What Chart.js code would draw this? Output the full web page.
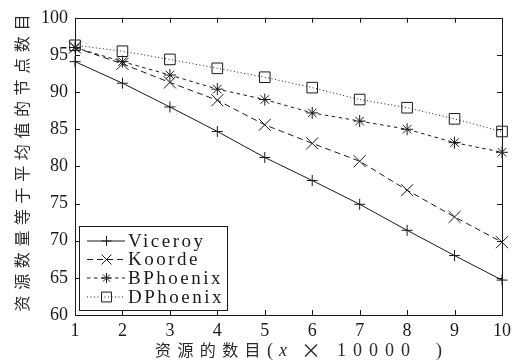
<!DOCTYPE html>
<html lang="zh">
<head>
<meta charset="UTF-8">
<title>资源数量等于平均值的节点数目</title>
<script src="https://cdn.jsdelivr.net/npm/chart.js"></script>
<style>
  html, body { margin: 0; padding: 0; background: #fff; }
  #wrap { width: 529px; height: 363px; position: relative; }
</style>
</head>
<body>
<div id="wrap"><canvas id="chart"></canvas></div>
<script>
// data
const categories = [1, 2, 3, 4, 5, 6, 7, 8, 9, 10];
const viceroy  = [94.1, 91.2, 88.0, 84.7, 81.2, 78.1, 74.9, 71.4, 68.0, 64.7];
const koorde   = [96.0, 93.8, 91.3, 88.9, 85.6, 83.1, 80.7, 76.8, 73.2, 69.8];
const bphoenix = [96.0, 94.1, 92.3, 90.4, 89.0, 87.2, 86.1, 85.0, 83.2, 81.9];
const dphoenix = [96.3, 95.5, 94.4, 93.2, 92.0, 90.6, 89.0, 87.9, 86.4, 84.7];
const seriesNames = ['Viceroy', 'Koorde', 'BPhoenix', 'DPhoenix'];
const yTicks = [60, 65, 70, 75, 80, 85, 90, 95, 100];

const ink = '#1a1a1a';
const serif = '"Liberation Serif", "DejaVu Serif", serif';
const cjk = '"Noto Sans CJK SC", sans-serif';

const styles = [
  { dash: [], point: 'cross', r: 5.5 },
  { dash: [6, 4], point: 'crossRot', r: 8.5 },
  { dash: [3.5, 3.5], point: 'star', r: 6 },
  { dash: [1, 2.5], point: 'rect', r: 7.5 }
];

function toPoints(vals) {
  return categories.map((c, i) => ({ x: c, y: vals[i] }));
}

function mark(ctx, type, x, y, r) {
  ctx.beginPath();
  if (type === 'cross' || type === 'star') {
    ctx.moveTo(x - r, y); ctx.lineTo(x + r, y);
    ctx.moveTo(x, y - r); ctx.lineTo(x, y + r);
  }
  if (type === 'crossRot' || type === 'star') {
    const d = r * 0.707;
    ctx.moveTo(x - d, y - d); ctx.lineTo(x + d, y + d);
    ctx.moveTo(x - d, y + d); ctx.lineTo(x + d, y - d);
  }
  if (type === 'rect') {
    const s = r * 0.707;
    ctx.rect(x - s, y - s, 2 * s, 2 * s);
  }
  ctx.stroke();
}

const decor = {
  id: 'decor',
  afterDraw(chart) {
    const ctx = chart.ctx;
    const a = chart.chartArea;
    const xs = chart.scales.x, ys = chart.scales.y;
    ctx.save();
    ctx.strokeStyle = ink;
    ctx.lineWidth = 1;
    ctx.setLineDash([]);
    // frame
    ctx.strokeRect(Math.round(a.left) + 0.5, Math.round(a.top) + 0.5,
                   Math.round(a.right - a.left), Math.round(a.bottom - a.top));
    // inward ticks
    ctx.beginPath();
    categories.forEach(c => {
      const px = Math.round(xs.getPixelForValue(c)) + 0.5;
      ctx.moveTo(px, a.bottom); ctx.lineTo(px, a.bottom - 5);
      ctx.moveTo(px, a.top); ctx.lineTo(px, a.top + 5);
    });
    yTicks.forEach(v => {
      const py = Math.round(ys.getPixelForValue(v)) + 0.5;
      ctx.moveTo(a.left, py); ctx.lineTo(a.left + 5, py);
      ctx.moveTo(a.right, py); ctx.lineTo(a.right - 5, py);
    });
    ctx.stroke();

    // legend
    const bx = 79.5, by = 226.5, bw = 148, bh = 84;
    ctx.fillStyle = '#fff';
    ctx.fillRect(bx, by, bw, bh);
    ctx.strokeRect(bx, by, bw, bh);
    const rows = [241, 259.5, 278, 297];
    ctx.font = '19px ' + serif;
    ctx.textBaseline = 'middle';
    ctx.textAlign = 'left';
    seriesNames.forEach((name, i) => {
      const y = rows[i];
      ctx.setLineDash(styles[i].dash);
      ctx.beginPath();
      ctx.moveTo(87, y); ctx.lineTo(125, y);
      ctx.stroke();
      ctx.setLineDash([]);
      mark(ctx, styles[i].point, 106.5, y, styles[i].point === 'crossRot' ? 7 : (styles[i].point === 'rect' ? 7 : 5));
      ctx.fillStyle = ink;
      ctx.letterSpacing = '2.5px';
      ctx.fillText(name, 128, y + 1);
      ctx.letterSpacing = '0px';
    });

    // y title
    ctx.fillStyle = '#2a2a2a';
    ctx.save();
    ctx.translate(22, 163);
    ctx.rotate(-Math.PI / 2);
    ctx.font = '16px ' + cjk;
    ctx.letterSpacing = '5.6px';
    ctx.textAlign = 'center';
    ctx.textBaseline = 'middle';
    ctx.fillText('资源数量等于平均值的节点数目', 2.8, 0);
    ctx.restore();

    // x title
    ctx.textAlign = 'left';
    ctx.textBaseline = 'middle';
    const ty = 350;
    ctx.font = '16px ' + cjk;
    ctx.letterSpacing = '6.4px';
    ctx.fillText('资源的数目', 155, ty);
    ctx.letterSpacing = '0px';
    ctx.font = '18px ' + serif;
    ctx.fillText('(', 267, ty + 1);
    ctx.font = 'italic 18px ' + serif;
    ctx.fillText('x', 279, ty + 1);
    ctx.font = '20px ' + cjk;
    ctx.fillText('×', 301, ty);
    ctx.font = '18px ' + serif;
    ctx.letterSpacing = '7px';
    ctx.fillText('10000', 337, ty + 1);
    ctx.letterSpacing = '0px';
    ctx.fillText(')', 436, ty + 1);
    ctx.restore();
  }
};

const datasets = [viceroy, koorde, bphoenix, dphoenix].map((vals, i) => ({
  label: seriesNames[i],
  data: toPoints(vals),
  borderColor: ink,
  borderWidth: 1,
  borderDash: styles[i].dash,
  pointStyle: styles[i].point,
  pointRadius: styles[i].r,
  pointBorderColor: ink,
  pointBackgroundColor: 'rgba(0,0,0,0)',
  pointBorderWidth: 1,
  tension: 0,
  clip: false
}));

new Chart(document.getElementById('chart'), {
  type: 'line',
  data: { datasets },
  plugins: [decor],
  options: {
    responsive: true,
    maintainAspectRatio: false,
    animation: false,
    layout: { padding: { top: 15, right: 27, left: 0, bottom: 0 } },
    plugins: { legend: { display: false }, tooltip: { enabled: false } },
    scales: {
      x: {
        type: 'linear',
        min: 1, max: 10,
        afterFit: s => { s.height = 48; },
        afterBuildTicks: s => { s.ticks = categories.map(v => ({ value: v })); },
        grid: { display: false, drawTicks: false },
        border: { display: false },
        ticks: { color: ink, padding: 5, font: { family: serif, size: 18 }, maxRotation: 0 }
      },
      y: {
        min: 60, max: 100,
        afterFit: s => { s.width = 75; },
        afterBuildTicks: s => { s.ticks = yTicks.map(v => ({ value: v })); },
        grid: { display: false, drawTicks: false },
        border: { display: false },
        ticks: { color: ink, padding: 7, font: { family: serif, size: 18 } }
      }
    }
  }
});
</script>
</body>
</html>
